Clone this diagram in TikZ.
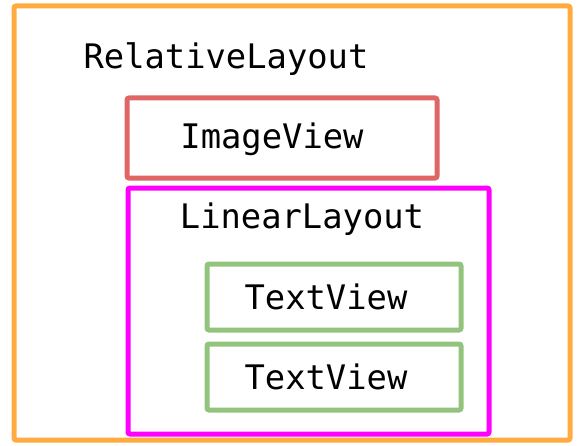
\documentclass[tikz,border=0pt]{standalone}
\usepackage{fontspec}
\setmonofont{DejaVu Sans Mono}
\tikzset{
  box/.style={draw, line width=5pt, rounded corners=2pt, fill=none, inner sep=0pt, rectangle},
  lbl/.style={font=\ttfamily\fontsize{33.8}{38}\selectfont, text=black, inner sep=0pt, anchor=center},
}
\definecolor{relc}{HTML}{FFAB40}
\definecolor{imgc}{HTML}{E06666}
\definecolor{linc}{HTML}{FF00FF}
\definecolor{txtc}{HTML}{93C47D}
\begin{document}
\begin{tikzpicture}[x=1pt,y=1pt]
  \useasboundingbox (0,0) rectangle (577,445);
  % RelativeLayout container
  \node[box, draw=relc, minimum width=556pt, minimum height=434pt] (rel) at (292,222) {};
  \node[lbl] (rellbl) at (226,386) {RelativeLayout};
  % ImageView
  \node[box, draw=imgc, minimum width=310pt, minimum height=80pt] (img) at (282,307) {};
  \node[lbl] (imglbl) at (272,306) {ImageView};
  % LinearLayout container
  \node[box, draw=linc, minimum width=361pt, minimum height=246pt] (lin) at (308.5,134) {};
  \node[lbl] (linlbl) at (302,226) {LinearLayout};
  % TextViews
  \node[box, draw=txtc, minimum width=254pt, minimum height=66pt] (tv1) at (334,148) {};
  \node[lbl] (tv1lbl) at (326,148) {TextView};
  \node[box, draw=txtc, minimum width=254pt, minimum height=66pt] (tv2) at (334,68) {};
  \node[lbl] (tv2lbl) at (326,68) {TextView};
\end{tikzpicture}
\end{document}
